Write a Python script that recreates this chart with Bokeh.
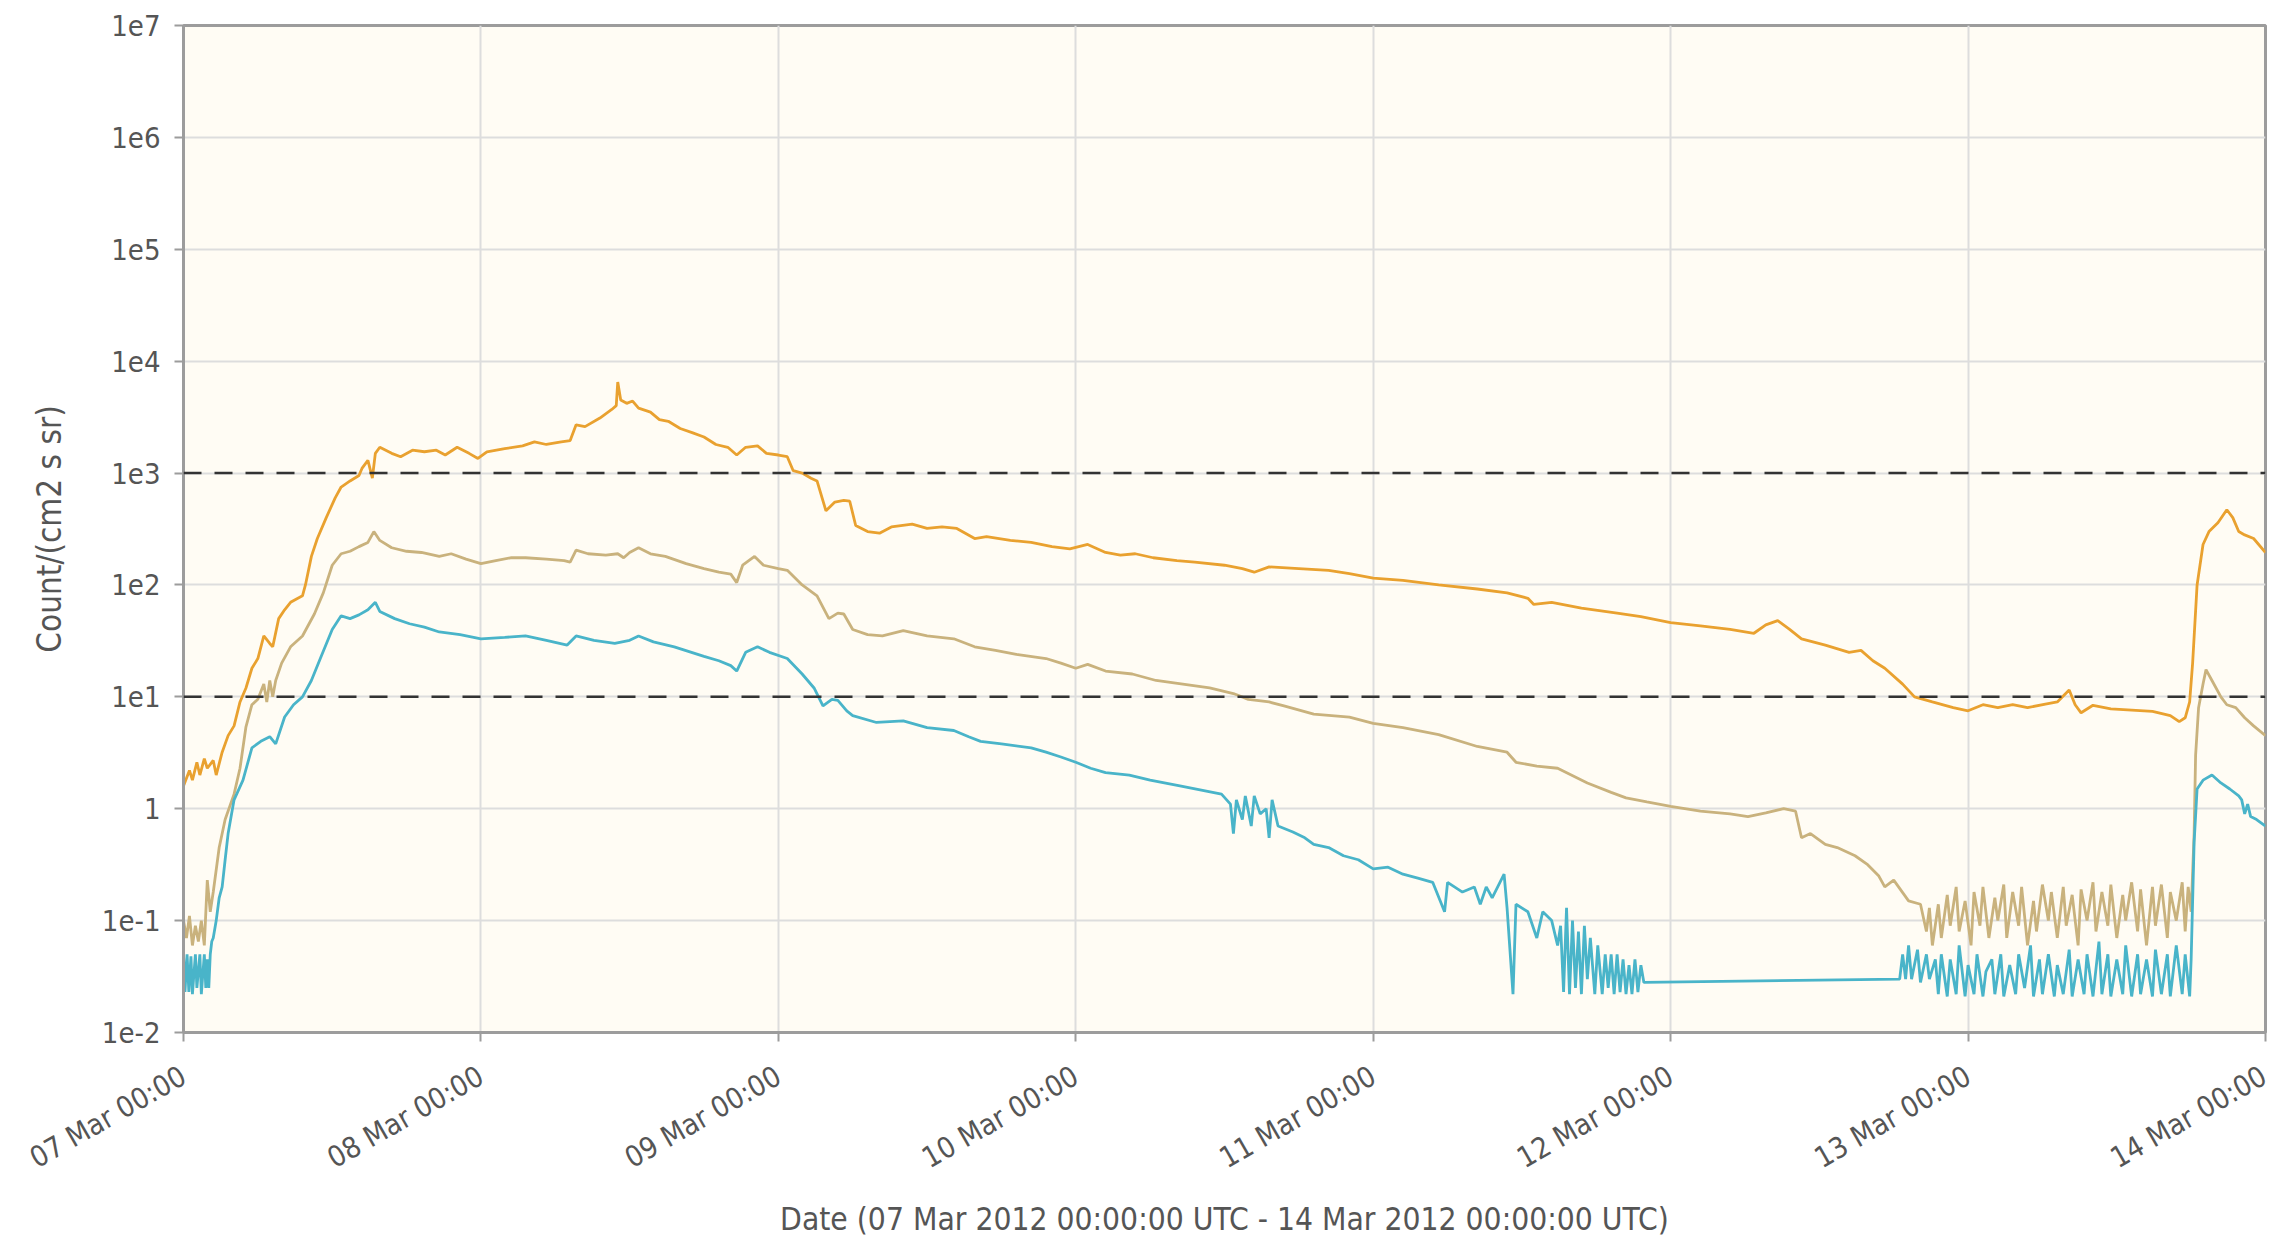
import datetime as dt
from bokeh.plotting import figure
from bokeh.models import (Range1d, FixedTicker, CustomJSTickFormatter, DatetimeTickFormatter,
                          Span, ColumnDataSource)
from bokeh.embed import file_html
from bokeh.resources import INLINE

# ---------------- data (days after 07 Mar 2012 00:00 UTC, flux) ----------------
start_date = dt.datetime(2012, 3, 7)
tick_days = [0, 1, 2, 3, 4, 5, 6, 7]
y_ticks = [1e-2, 1e-1, 1, 1e1, 1e2, 1e3, 1e4, 1e5, 1e6, 1e7]
thresholds = [1e3, 1e1]

p10_days = [0.00, 0.02, 0.03, 0.045, 0.055, 0.07, 0.08, 0.10, 0.11, 0.13, 0.15, 0.17, 0.19, 0.21,
            0.23, 0.25, 0.27, 0.29, 0.30, 0.32, 0.34, 0.36, 0.38, 0.40, 0.41, 0.43, 0.45, 0.48,
            0.51, 0.53, 0.56, 0.59, 0.60, 0.62, 0.635, 0.645, 0.66, 0.70, 0.73, 0.77, 0.81, 0.85,
            0.88, 0.92, 0.96, 0.99, 1.02, 1.08, 1.14, 1.18, 1.22, 1.27, 1.30, 1.32, 1.35, 1.40,
            1.44, 1.455, 1.46, 1.47, 1.49, 1.51, 1.53, 1.57, 1.60, 1.63, 1.67, 1.71, 1.75, 1.79,
            1.83, 1.86, 1.89, 1.93, 1.96, 2.00, 2.03, 2.05, 2.08, 2.11, 2.13, 2.16, 2.19, 2.22,
            2.24, 2.26, 2.30, 2.34, 2.38, 2.45, 2.50, 2.55, 2.60, 2.66, 2.70, 2.78, 2.85, 2.92,
            2.98, 3.04, 3.10, 3.15, 3.20, 3.26, 3.34, 3.40, 3.50, 3.56, 3.60, 3.65, 3.75, 3.85,
            3.92, 4.00, 4.10, 4.22, 4.35, 4.45, 4.52, 4.54, 4.60, 4.70, 4.82, 4.90, 5.00, 5.10,
            5.20, 5.28, 5.32, 5.36, 5.40, 5.44, 5.52, 5.60, 5.64, 5.68, 5.72, 5.78, 5.82, 5.88,
            5.95, 6.00, 6.05, 6.10, 6.15, 6.20, 6.26, 6.30, 6.34, 6.36, 6.38, 6.42, 6.48, 6.55,
            6.62, 6.68, 6.71, 6.73, 6.745, 6.755, 6.77, 6.79, 6.81, 6.84, 6.87, 6.89, 6.91, 6.93,
            6.96, 7.00]
p10_vals = [1.6, 2.2, 1.8, 2.6, 2.0, 2.8, 2.3, 2.7, 2.0, 3.2, 4.5, 5.5, 9, 12,
            18, 22, 35, 30, 28, 50, 60, 70, 75, 80, 100, 180, 260, 400,
            600, 750, 850, 950, 1100, 1300, 900, 1500, 1700, 1500, 1400, 1600, 1550, 1600,
            1450, 1700, 1500, 1350, 1550, 1650, 1750, 1900, 1800, 1900, 1950, 2700, 2600, 3100,
            3700, 4000, 6500, 4500, 4200, 4400, 3800, 3500, 3000, 2900, 2500, 2300, 2100, 1800,
            1700, 1450, 1700, 1750, 1500, 1450, 1400, 1050, 1000, 900, 850, 460, 550, 570,
            560, 340, 300, 290, 330, 350, 320, 330, 320, 260, 270, 250, 240, 220,
            210, 230, 195, 185, 190, 175, 165, 160, 150, 140, 130, 145, 140, 135,
            126, 115, 110, 100, 92, 85, 76, 67, 70, 62, 56, 52, 46, 43,
            40, 37, 44, 48, 40, 33, 29, 25, 26, 21, 18, 13, 10, 9,
            8, 7.5, 8.5, 8, 8.5, 8, 8.6, 9, 11.5, 8.5, 7.2, 8.4, 7.8, 7.6,
            7.4, 6.8, 6.0, 6.5, 9, 20, 100, 230, 300, 360, 470, 400, 300, 280,
            260, 195]

p50_days = [0.00, 0.01, 0.02, 0.03, 0.04, 0.05, 0.06, 0.07, 0.08, 0.09, 0.10, 0.12, 0.14, 0.17,
            0.19, 0.21, 0.23, 0.25, 0.27, 0.28, 0.29, 0.30, 0.31, 0.33, 0.36, 0.40, 0.44, 0.47,
            0.50, 0.53, 0.56, 0.59, 0.62, 0.64, 0.66, 0.70, 0.75, 0.80, 0.86, 0.90, 0.95, 1.00,
            1.05, 1.10, 1.15, 1.22, 1.28, 1.30, 1.32, 1.36, 1.42, 1.46, 1.48, 1.50, 1.53, 1.57,
            1.62, 1.69, 1.75, 1.80, 1.84, 1.86, 1.88, 1.92, 1.95, 2.00, 2.03, 2.08, 2.13, 2.17,
            2.20, 2.22, 2.25, 2.30, 2.35, 2.42, 2.50, 2.59, 2.66, 2.73, 2.80, 2.90, 2.95, 3.00,
            3.04, 3.10, 3.19, 3.27, 3.36, 3.45, 3.53, 3.58, 3.65, 3.70, 3.80, 3.92, 4.00, 4.10,
            4.22, 4.35, 4.45, 4.48, 4.55, 4.62, 4.72, 4.80, 4.85, 4.92, 5.00, 5.10, 5.20, 5.26,
            5.32, 5.38, 5.42, 5.44, 5.47, 5.52, 5.56, 5.62, 5.66, 5.70, 5.72, 5.75, 5.80, 5.84,
            5.86, 5.87, 5.88, 5.90, 5.91, 5.93, 5.94, 5.96, 5.97, 5.99, 6.01, 6.02, 6.04, 6.05,
            6.07, 6.09, 6.10, 6.12, 6.13, 6.15, 6.17, 6.18, 6.20, 6.22, 6.23, 6.25, 6.27, 6.28,
            6.30, 6.32, 6.33, 6.35, 6.37, 6.38, 6.40, 6.42, 6.43, 6.45, 6.47, 6.48, 6.50, 6.52,
            6.53, 6.55, 6.57, 6.58, 6.60, 6.62, 6.63, 6.65, 6.67, 6.68, 6.70, 6.72, 6.73, 6.74,
            6.75, 6.76, 6.765, 6.775, 6.79, 6.80, 6.82, 6.85, 6.87, 6.90, 6.93, 6.96, 7.00]
p50_vals = [0.1, 0.07, 0.11, 0.06, 0.09, 0.065, 0.1, 0.06, 0.23, 0.12, 0.18, 0.45, 0.8, 1.35,
            2.3, 5.4, 8.5, 9.5, 13, 9, 14, 10, 14, 20, 28, 35, 55, 85,
            150, 190, 200, 220, 240, 300, 250, 215, 200, 195, 180, 190, 170, 155,
            165, 175, 175, 170, 165, 160, 205, 190, 185, 190, 175, 195, 215, 190,
            180, 155, 140, 130, 125, 105, 150, 180, 150, 140, 135, 100, 80, 50,
            56, 55, 40, 36, 35, 39, 35, 33, 28, 26, 24, 22, 20, 18,
            19.5, 17, 16, 14, 13, 12, 10.7, 9.5, 9, 8.3, 7, 6.6, 5.8, 5.3,
            4.6, 3.6, 3.2, 2.6, 2.4, 2.3, 1.7, 1.4, 1.25, 1.15, 1.05, 0.95, 0.9, 0.85,
            0.92, 1.0, 0.95, 0.55, 0.6, 0.48, 0.45, 0.38, 0.32, 0.25, 0.2, 0.23, 0.15, 0.14,
            0.08, 0.13, 0.06, 0.14, 0.07, 0.17, 0.09, 0.2, 0.08, 0.15, 0.06, 0.18, 0.09, 0.2,
            0.07, 0.16, 0.1, 0.21, 0.07, 0.18, 0.09, 0.2, 0.06, 0.15, 0.08, 0.21, 0.1, 0.18,
            0.07, 0.2, 0.09, 0.17, 0.06, 0.19, 0.1, 0.22, 0.08, 0.18, 0.09, 0.21, 0.07, 0.17,
            0.1, 0.22, 0.08, 0.19, 0.06, 0.2, 0.09, 0.21, 0.07, 0.18, 0.1, 0.22, 0.08, 0.2,
            0.12, 0.6, 3, 8, 13, 17.5, 14, 10, 8.5, 8, 6.5, 5.5, 4.5]

p100_days = [0.00, 0.005, 0.012, 0.018, 0.025, 0.03, 0.04, 0.045, 0.055, 0.06, 0.07, 0.075, 0.08,
             0.085, 0.09, 0.095, 0.10, 0.11, 0.12, 0.13, 0.14, 0.15, 0.17, 0.20, 0.23, 0.26, 0.29,
             0.31, 0.34, 0.37, 0.40, 0.43, 0.46, 0.50, 0.53, 0.56, 0.59, 0.62, 0.645, 0.66, 0.71,
             0.76, 0.81, 0.86, 0.93, 1.00, 1.08, 1.15, 1.22, 1.29, 1.32, 1.38, 1.45, 1.50, 1.53,
             1.58, 1.65, 1.75, 1.80, 1.84, 1.86, 1.89, 1.93, 1.97, 2.03, 2.08, 2.12, 2.15, 2.18,
             2.20, 2.23, 2.25, 2.33, 2.42, 2.50, 2.59, 2.64, 2.68, 2.75, 2.85, 2.90, 2.95, 3.00,
             3.05, 3.10, 3.18, 3.25, 3.35, 3.49, 3.52, 3.53, 3.54, 3.56, 3.57, 3.59, 3.60, 3.62,
             3.64, 3.65, 3.66, 3.68, 3.73, 3.77, 3.80, 3.85, 3.90, 3.95, 4.00, 4.05, 4.10, 4.15,
             4.20, 4.24, 4.25, 4.30, 4.34, 4.36, 4.38, 4.40, 4.44, 4.45, 4.47, 4.48, 4.52, 4.55,
             4.57, 4.60, 4.62, 4.63, 4.64, 4.65, 4.66, 4.67, 4.68, 4.69, 4.70, 4.71, 4.72, 4.73,
             4.745, 4.755, 4.77, 4.78, 4.79, 4.80, 4.81, 4.82, 4.83, 4.84, 4.85, 4.86, 4.87, 4.88,
             4.89, 4.90, 4.91, 5.77, 5.78, 5.79, 5.80, 5.81, 5.83, 5.84, 5.86, 5.87, 5.89, 5.90,
             5.91, 5.93, 5.94, 5.96, 5.97, 5.99, 6.00, 6.02, 6.03, 6.05, 6.06, 6.08, 6.09, 6.11,
             6.12, 6.14, 6.16, 6.17, 6.19, 6.21, 6.22, 6.24, 6.25, 6.27, 6.29, 6.30, 6.32, 6.34,
             6.35, 6.37, 6.39, 6.40, 6.42, 6.44, 6.45, 6.47, 6.48, 6.50, 6.52, 6.53, 6.55, 6.57,
             6.58, 6.60, 6.62, 6.63, 6.65, 6.67, 6.68, 6.70, 6.72, 6.73, 6.745, 6.75, 6.76, 6.77,
             6.79, 6.82, 6.85, 6.88, 6.91, 6.92, 6.93, 6.94, 6.95, 6.97, 7.00]
p100_vals = [0.05, 0.023, 0.05, 0.023, 0.048, 0.022, 0.05, 0.025, 0.05, 0.022, 0.05, 0.025, 0.045,
             0.025, 0.05, 0.065, 0.07, 0.1, 0.16, 0.2, 0.35, 0.6, 1.2, 1.8, 3.5, 4.0, 4.4,
             3.8, 6.6, 8.5, 10, 14, 22, 40, 53, 50, 54, 60, 70, 58, 50,
             45, 42, 38, 36, 33, 34, 35, 32, 29, 35, 32, 30, 32, 35,
             31, 28, 23, 21, 19, 17, 25, 28, 25, 22, 16, 12, 8.3, 9.5,
             9.3, 7.5, 6.8, 5.9, 6.1, 5.3, 5.0, 4.4, 4.0, 3.8, 3.5, 3.2, 2.9, 2.6,
             2.3, 2.1, 2.0, 1.8, 1.6, 1.35, 1.1, 0.6, 1.2, 0.8, 1.3, 0.7, 1.3, 0.9,
             1.0, 0.55, 1.2, 0.7, 0.62, 0.55, 0.48, 0.45, 0.38, 0.35, 0.29, 0.3, 0.26, 0.24,
             0.22, 0.12, 0.22, 0.18, 0.2, 0.14, 0.2, 0.16, 0.26, 0.13, 0.022, 0.14, 0.12, 0.07,
             0.12, 0.1, 0.06, 0.09, 0.023, 0.13, 0.022, 0.1, 0.025, 0.08, 0.022, 0.09, 0.03, 0.07,
             0.022, 0.06, 0.022, 0.05, 0.025, 0.05, 0.022, 0.05, 0.023, 0.045, 0.022, 0.04, 0.022, 0.045,
             0.023, 0.04, 0.028, 0.03, 0.05, 0.03, 0.06, 0.03, 0.055, 0.028, 0.05, 0.03, 0.045, 0.022,
             0.05, 0.021, 0.045, 0.022, 0.06, 0.021, 0.04, 0.022, 0.05, 0.021, 0.035, 0.045, 0.022, 0.05,
             0.021, 0.04, 0.022, 0.05, 0.025, 0.06, 0.021, 0.045, 0.022, 0.05, 0.021, 0.04, 0.022, 0.055,
             0.021, 0.045, 0.022, 0.05, 0.021, 0.065, 0.022, 0.05, 0.021, 0.045, 0.022, 0.06, 0.021, 0.05,
             0.022, 0.045, 0.021, 0.055, 0.022, 0.05, 0.021, 0.06, 0.022, 0.05, 0.021, 0.045, 0.5, 1.5,
             1.8, 2.0, 1.7, 1.5, 1.3, 1.2, 0.9, 1.1, 0.85, 0.8, 0.7]

series_colors = ["#E9A12F", "#C9B27D", "#49B4C9"]

# ---------------- figure ----------------
def to_time(days):
    return [start_date + dt.timedelta(days=d) for d in days]

epoch = dt.datetime(1970, 1, 1)
x_start = (start_date - epoch).total_seconds() * 1000.0
tick_ms = [x_start + d * 86400000.0 for d in tick_days]

W, H = 2272, 1240
p = figure(width=W, height=H, x_axis_type="datetime", y_axis_type="log",
           output_backend="svg", toolbar_location=None,
           x_range=Range1d(tick_ms[0], tick_ms[-1]), y_range=Range1d(y_ticks[0], y_ticks[-1]),
           min_border_left=183, min_border_right=7, min_border_top=25, min_border_bottom=208)

p.background_fill_color = "#FFFCF4"
p.border_fill_color = "white"
p.outline_line_color = "#9c9c9c"
p.outline_line_width = 3

FONT = "'DejaVu Sans Condensed', 'DejaVu Sans', sans-serif"

p.xaxis.ticker = FixedTicker(ticks=tick_ms)
fmt = "%d %b %H:%M"
p.xaxis.formatter = DatetimeTickFormatter(microseconds=fmt, milliseconds=fmt, seconds=fmt,
                                          minsec=fmt, minutes=fmt, hourmin=fmt, hours=fmt,
                                          days=fmt, months=fmt, years=fmt)
p.xaxis.major_label_orientation = 0.52
p.xaxis.axis_label = "Date (07 Mar 2012 00:00:00 UTC - 14 Mar 2012 00:00:00 UTC)"

p.yaxis.ticker = FixedTicker(ticks=y_ticks)
p.yaxis.formatter = CustomJSTickFormatter(code="""
    const e = Math.round(Math.log10(tick));
    return e == 0 ? "1" : "1e" + e;
""")
p.yaxis.axis_label = "Count/(cm2 s sr)"

for ax in (p.xaxis, p.yaxis):
    ax.axis_line_color = "#9c9c9c"
    ax.axis_line_width = 3
    ax.major_tick_line_color = "#9c9c9c"
    ax.major_tick_line_width = 2
    ax.major_tick_out = 9
    ax.major_tick_in = 0
    ax.minor_tick_line_color = None
    ax.major_label_text_font = FONT
    ax.major_label_text_font_size = "29px"
    ax.major_label_text_color = "#555555"
    ax.axis_label_text_font = FONT
    ax.axis_label_text_font_style = "normal"
    ax.axis_label_text_color = "#555555"

p.xaxis.axis_label_text_font_size = "31.5px"
p.yaxis.axis_label_text_font_size = "33px"
p.xaxis.major_label_standoff = 32
p.xaxis.axis_label_standoff = 8
p.yaxis.major_label_standoff = 14
p.yaxis.axis_label_standoff = 30

p.xgrid.ticker = FixedTicker(ticks=tick_ms)
p.ygrid.ticker = FixedTicker(ticks=y_ticks)
p.grid.grid_line_color = "#dddddd"
p.grid.grid_line_width = 2

for t in thresholds:
    p.add_layout(Span(location=t, dimension="width", line_color="#333333",
                      line_width=2.5, line_dash="18 13"))

for days, vals, col in [(p10_days, p10_vals, series_colors[0]),
                        (p50_days, p50_vals, series_colors[1]),
                        (p100_days, p100_vals, series_colors[2])]:
    src = ColumnDataSource(dict(x=to_time(days), y=vals))
    p.line("x", "y", source=src, line_color=col, line_width=2.8)

open("out.html", "w").write(file_html(p, INLINE))
